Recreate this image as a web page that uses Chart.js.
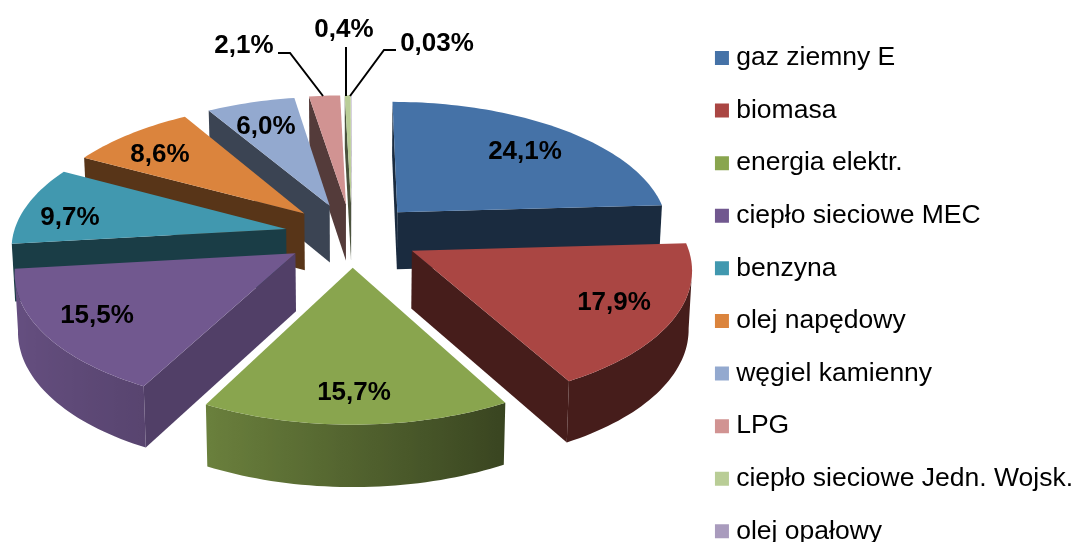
<!DOCTYPE html>
<html lang="pl">
<head>
<meta charset="utf-8">
<title>Udział paliw</title>
<script src="https://cdn.jsdelivr.net/npm/chart.js@4"></script>
<style>
  html, body { margin: 0; padding: 0; width: 1074px; height: 542px; overflow: hidden; background: #fff; }
  canvas { display: block; }
</style>
</head>
<body>
<canvas id="pie" width="1074" height="640"></canvas>
<script>
// ── Data ──
const CATEGORIES = ['gaz ziemny E', 'biomasa', 'energia elektr.', 'ciepło sieciowe MEC', 'benzyna',
  'olej napędowy', 'węgiel kamienny', 'LPG', 'ciepło sieciowe Jedn. Wojsk.', 'olej opałowy'];
const VALUES = [24.1, 17.9, 15.7, 15.5, 9.7, 8.6, 6.0, 2.1, 0.4, 0.03];
const VALUE_LABELS = ['24,1%', '17,9%', '15,7%', '15,5%', '9,7%', '8,6%', '6,0%', '2,1%', '0,4%', '0,03%'];
const COLORS = ['#4572A7', '#AA4643', '#89A54E', '#71588F', '#4198AF', '#DB843D', '#93A9CF', '#D19392', '#B9CD96', '#A99BBD'];

// ── Look of the 3D pie ──
const VIEW = { cx: 352, cy: 235, radius: 273, squash: 0.4727, persp: 0.1215, depth: 57.5, explode: 0.247 };
const CUT_SHADE = [0.38, 0.41, 0.5, 0.72, 0.4, 0.4, 0.4, 0.4, 0.4, 0.4];
const LABEL_FONT = 'bold 26px "Liberation Sans", Arial, sans-serif';
const LABEL_AT = [[525, 152], [614, 303], [354, 393], [97, 316], [70, 218], [160, 155], [266, 127], [244, 46], [344, 30], [437, 44]];
const LEADERS = [
  { slice: 7, path: [[278, 53], [290, 53], [323, 96]] },
  { slice: 8, path: [[346, 47], [346, 96]] },
  { slice: 9, path: [[396, 50], [384, 50], [350, 96]] },
];

// ── Projection helpers ──
function project(u, v) {
  const s = 1 / (1 - VIEW.persp * v);
  return { x: VIEW.cx + VIEW.radius * u * s, y: VIEW.cy + VIEW.radius * VIEW.squash * v * s, s };
}
function below(p) {
  return { x: VIEW.cx + (p.x - VIEW.cx) * 0.99, y: p.y + VIEW.depth * Math.sqrt(p.s) };
}
function shade(hex, f) {
  const n = parseInt(hex.slice(1), 16);
  return `rgb(${Math.round((n >> 16) * f)},${Math.round(((n >> 8) & 255) * f)},${Math.round((n & 255) * f)})`;
}
function rimShade(u) {
  if (u <= -0.47) return 0.78 + (-0.47 - u) * 0.23;
  if (u >= 0.47) return 0.41;
  return 0.6 - 0.38 * u;
}
function sideFace(ctx, top, fill) {
  ctx.fillStyle = fill;
  ctx.beginPath();
  top.forEach((p, k) => k ? ctx.lineTo(p.x, p.y) : ctx.moveTo(p.x, p.y));
  top.slice().reverse().forEach(p => { const b = below(p); ctx.lineTo(b.x, b.y); });
  ctx.closePath();
  ctx.fill();
}

// ── Slice drawing, uses the angles the pie controller computed ──
function drawSlice(ctx, el, i) {
  const start = el.startAngle + Math.PI / 2;
  const end = el.endAngle + Math.PI / 2;
  const mid = (start + end) / 2;
  const ou = VIEW.explode * Math.sin(mid);
  const ov = -VIEW.explode * Math.cos(mid);
  const steps = Math.max(2, Math.ceil((end - start) * 40));
  const apex = project(ou, ov);
  const rim = [];
  for (let k = 0; k <= steps; k++) {
    const a = start + (end - start) * k / steps;
    rim.push({ p: project(ou + Math.sin(a), ov - Math.cos(a)), u: Math.sin(a) });
  }
  const base = COLORS[i];
  const cut = shade(base, CUT_SHADE[i]);

  // only faces whose top edge runs leftward face the viewer
  if (rim[0].p.x < apex.x) sideFace(ctx, [apex, rim[0].p], cut);
  const seen = rim.filter((r, k) => (k < steps && rim[k + 1].p.x < r.p.x) || (k > 0 && r.p.x < rim[k - 1].p.x));
  if (seen.length > 1) {
    const x0 = seen[0].p.x, x1 = seen[seen.length - 1].p.x;
    const grad = ctx.createLinearGradient(x0, 0, x1, 0);
    seen.forEach(r => grad.addColorStop((r.p.x - x0) / (x1 - x0), shade(base, rimShade(r.u))));
    sideFace(ctx, seen.map(r => r.p), grad);
  }
  if (apex.x < rim[steps].p.x) sideFace(ctx, [rim[steps].p, apex], cut);

  ctx.fillStyle = base;
  ctx.beginPath();
  ctx.moveTo(apex.x, apex.y);
  rim.forEach(r => ctx.lineTo(r.p.x, r.p.y));
  ctx.closePath();
  ctx.fill();
}

const pie3d = {
  id: 'pie3d',
  beforeDatasetsDraw(chart) {
    const ctx = chart.ctx;
    const arcs = chart.getDatasetMeta(0).data;
    const depthOf = el => -Math.cos((el.startAngle + el.endAngle) / 2 + Math.PI / 2);
    const order = arcs.map((el, i) => i).sort((a, b) => depthOf(arcs[a]) - depthOf(arcs[b]));
    order.forEach(i => drawSlice(ctx, arcs[i], i));

    // leader lines
    ctx.strokeStyle = '#000';
    ctx.lineWidth = 2;
    LEADERS.forEach(l => {
      ctx.beginPath();
      l.path.forEach(([x, y], k) => k ? ctx.lineTo(x, y) : ctx.moveTo(x, y));
      ctx.stroke();
    });

    // value labels
    ctx.font = LABEL_FONT;
    ctx.fillStyle = '#000';
    ctx.textAlign = 'center';
    ctx.textBaseline = 'middle';
    VALUE_LABELS.forEach((t, i) => ctx.fillText(t, LABEL_AT[i][0], LABEL_AT[i][1]));
    return false;
  },
};

// ── Chart ──
new Chart(document.getElementById('pie'), {
  type: 'pie',
  data: {
    labels: CATEGORIES,
    datasets: [{ data: VALUES, backgroundColor: COLORS, borderWidth: 0 }],
  },
  options: {
    responsive: false,
    animation: false,
    layout: { padding: { top: 18.6, right: -9 } },
    plugins: {
      tooltip: { enabled: false },
      legend: {
        position: 'right',
        align: 'start',
        labels: {
          usePointStyle: true,
          pointStyle: 'rect',
          boxWidth: 2,
          boxHeight: 14,
          padding: 26.1,
          color: '#000',
          font: { family: '"Liberation Sans", Arial, sans-serif', size: 26.5 },
        },
      },
    },
  },
  plugins: [pie3d],
});
</script>
</body>
</html>
